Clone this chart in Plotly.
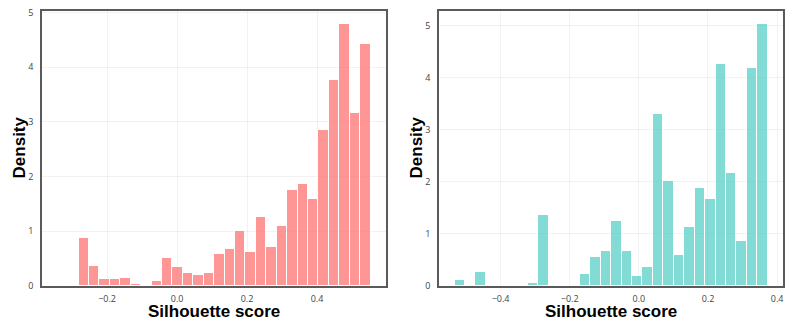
import plotly.graph_objects as go
from plotly.subplots import make_subplots

# Left histogram (density per bin)
left_bin_start = -0.341
left_bin_width = 0.0298
left_density = [0.01, 0.0, 0.87, 0.37, 0.12, 0.12, 0.15, 0.03, 0.0, 0.10,
                0.51, 0.355, 0.245, 0.20, 0.245, 0.58, 0.685, 1.01, 0.63, 1.26,
                0.72, 1.09, 1.756, 1.87, 1.585, 2.85, 3.776, 4.79, 3.16, 4.42]

# Right histogram
right_bin_start = -0.533
right_bin_width = 0.0302
right_density = [0.11, 0.0, 0.26, 0.0, 0.0, 0.0, 0.0, 0.064, 1.365, 0.0,
                 0.0, 0.0, 0.224, 0.564, 0.68, 1.25, 0.68, 0.186, 0.372, 3.31,
                 2.01, 0.60, 1.135, 1.89, 1.67, 4.27, 2.17, 0.87, 4.19, 5.03]

left_xticks = [-0.2, 0.0, 0.2, 0.4]
right_xticks = [-0.4, -0.2, 0.0, 0.2, 0.4]
yticks = [0, 1, 2, 3, 4, 5]

x_title = "Silhouette score"
y_title = "Density"

left_color = "#FF6B6B"
right_color = "#4ECDC4"


def centers(start, width, n):
    return [start + width * (i + 0.5) for i in range(n)]


fig = make_subplots(rows=1, cols=2, horizontal_spacing=0.0716)

fig.add_trace(go.Bar(
    x=centers(left_bin_start, left_bin_width, len(left_density)),
    y=left_density, width=left_bin_width,
    marker=dict(color=left_color, opacity=0.7, line=dict(color="white", width=1)),
    showlegend=False), row=1, col=1)

fig.add_trace(go.Bar(
    x=centers(right_bin_start, right_bin_width, len(right_density)),
    y=right_density, width=right_bin_width,
    marker=dict(color=right_color, opacity=0.7, line=dict(color="white", width=1)),
    showlegend=False), row=1, col=2)

tickfont = dict(family="Open Sans, Arial, sans-serif", size=9, color="#444")
titlefont = dict(family="Liberation Sans, Arial, sans-serif", size=17, color="black")

common_axis = dict(showline=True, mirror=True, linecolor="#5a5a5a", linewidth=1.5,
                   showgrid=True, gridcolor="rgba(0,0,0,0.05)", gridwidth=1,
                   zeroline=False, ticks="outside", automargin=False,
                   tickcolor="rgba(0,0,0,0)", tickfont=tickfont)

fig.update_xaxes(**common_axis, tickformat=".1f", ticklen=3)
fig.update_yaxes(**common_axis, tickvals=yticks, ticklen=5)

fig.update_xaxes(range=[-0.386, 0.597], tickvals=left_xticks, row=1, col=1)
fig.update_xaxes(range=[-0.578, 0.417], tickvals=right_xticks, row=1, col=2)
fig.update_yaxes(range=[0, 5.03], row=1, col=1)
fig.update_yaxes(range=[0, 5.28], row=1, col=2)

for xa, ya in (("x", "y"), ("x2", "y2")):
    fig.add_annotation(text="<b>%s</b>" % x_title, font=titlefont, showarrow=False,
                       xref=xa + " domain", yref=ya + " domain", x=0.5, y=-0.091,
                       xanchor="center", yanchor="middle")
    fig.add_annotation(text="<b>%s</b>" % y_title, font=titlefont, showarrow=False,
                       textangle=-90,
                       xref=xa + " domain", yref=ya + " domain", x=-0.066, y=0.505,
                       xanchor="center", yanchor="middle")

fig.update_layout(
    width=797, height=319,
    margin=dict(l=42, r=14, t=11, b=33),
    plot_bgcolor="white", paper_bgcolor="white",
    bargap=0,
)

fig.write_html("out.html", config={"displayModeBar": False},
               post_script="document.body.style.margin='0';document.body.style.overflow='hidden';")
